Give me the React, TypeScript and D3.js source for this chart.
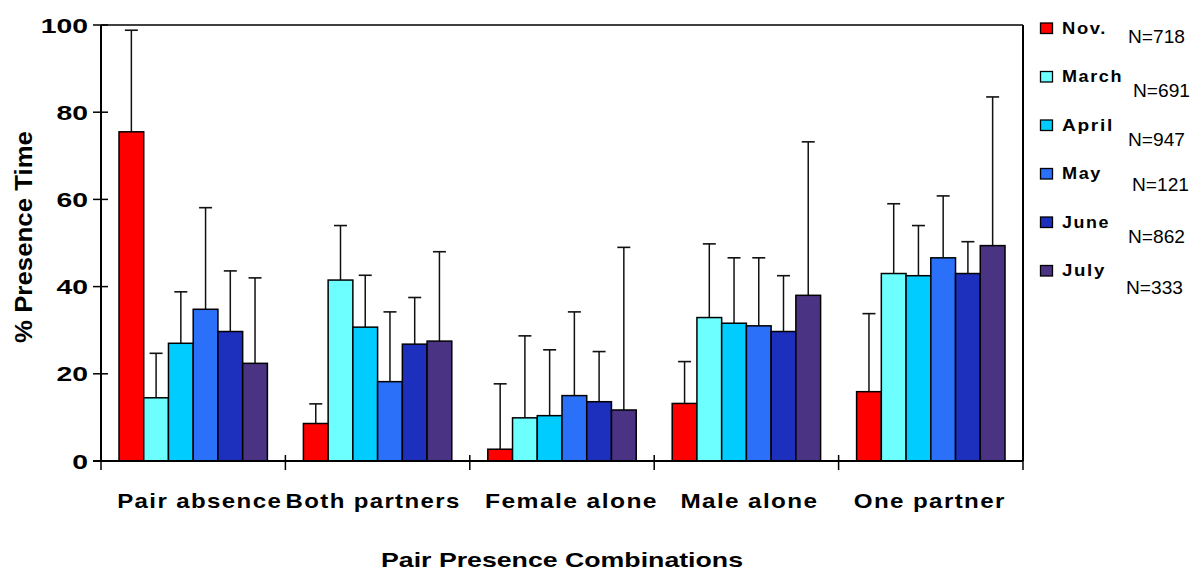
import React from "react";
import { scaleBand, scaleLinear } from "d3";

// groups on the x axis
const categories = ["Pair absence", "Both partners", "Female alone", "Male alone", "One partner"];
const months = ["Nov.", "March", "April", "May", "June", "July"];
const sampleSizes = ["N=718", "N=691", "N=947", "N=121", "N=862", "N=333"];
const colors = ["#ff0000", "#6dffff", "#00ccff", "#2a70f8", "#1c2fbd", "#4a3382"];

// mean % presence time per category, one array per month
const nov = [75.5, 8.6, 2.7, 13.2, 15.9];
const march = [14.5, 41.5, 9.9, 32.9, 43.0];
const april = [27.0, 30.7, 10.4, 31.6, 42.5];
const may = [34.8, 18.2, 15.0, 31.0, 46.6];
const june = [29.7, 26.8, 13.6, 29.7, 43.0];
const july = [22.4, 27.5, 11.7, 38.0, 49.4];

// upper error (SD) per category
const novSd = [23.3, 4.5, 15.0, 9.6, 17.9];
const marchSd = [10.2, 12.5, 18.8, 16.9, 16.0];
const aprilSd = [11.8, 11.9, 15.1, 15.0, 11.5];
const maySd = [23.3, 16.0, 19.2, 15.6, 14.2];
const juneSd = [13.9, 10.7, 11.5, 12.8, 7.3];
const julySd = [19.6, 20.5, 37.3, 35.2, 34.1];

const yTicks = [0, 20, 40, 60, 80, 100];

const means = [nov, march, april, may, june, july];
const sds = [novSd, marchSd, aprilSd, maySd, juneSd, julySd];

const left = 101;
const right = 1023;
const top = 25;
const bottom = 461;

// label widths / nudges as they sit in the original
const catLabelWidth = [165, 175, 173, 138, 152];
const catLabelShift = [6.5, -4.5, 9.5, 3, -1];
const legendLabelWidth = [45, 61, 52, 40, 48, 44];
const nX = [1128, 1133, 1128, 1132, 1128, 1126];
const nY = [43, 97, 146, 191, 243, 294];

export default function App() {
  const x0 = scaleBand().domain(categories).range([left, right]);
  const bw = x0.bandwidth();
  const x1 = scaleBand().domain(months).range([18, bw - 18]);
  const y = scaleLinear().domain([0, 100]).range([bottom, top]);
  const cap = 13;

  const bars = [];
  categories.forEach((c, ci) => {
    months.forEach((m, mi) => {
      const v = means[mi][ci];
      const bx = (x0(c) as number) + (x1(m) as number);
      const cx = bx + x1.bandwidth() / 2;
      const yTop = y(v + sds[mi][ci]);
      bars.push(
        <g key={c + m}>
          <line x1={cx} x2={cx} y1={y(v)} y2={yTop} stroke="#111" strokeWidth={1.5} />
          <line x1={cx - cap / 2} x2={cx + cap / 2} y1={yTop} y2={yTop} stroke="#111" strokeWidth={1.6} />
          <rect x={bx} y={y(v)} width={x1.bandwidth()} height={bottom - y(v)}
            fill={colors[mi]} stroke="#000" strokeWidth={1.5} />
        </g>
      );
    });
  });

  const tickXs = categories.map((c) => x0(c) as number).concat([right]);

  return (
    <svg width={1192} height={574} style={{ position: "absolute", left: 0, top: 0 }}
      fontFamily="'Liberation Sans', Arial, sans-serif">
      <rect width={1192} height={574} fill="#fff" />

      {bars}

      {/* frame */}
      <line x1={left} x2={right} y1={top} y2={top} stroke="#000" strokeWidth={1.5} />
      <line x1={right} x2={right} y1={top} y2={bottom} stroke="#000" strokeWidth={2} />

      {/* y axis */}
      <line x1={left} x2={left} y1={top} y2={bottom + 1} stroke="#000" strokeWidth={2} />
      {yTicks.map((t) => (
        <g key={t}>
          <line x1={left - 8} x2={left + 7} y1={y(t)} y2={y(t)} stroke="#000" strokeWidth={1.5} />
          <text transform={`translate(88,${y(t) + 7.5}) scale(1.35,1)`} textAnchor="end"
            fontSize={21} fontWeight="bold">{t}</text>
        </g>
      ))}
      <text transform={`translate(32,237) rotate(-90)`} textAnchor="middle" fontSize={24} fontWeight="bold"
        textLength={212} lengthAdjust="spacingAndGlyphs">
        % Presence Time
      </text>

      {/* x axis */}
      <line x1={left - 8} x2={right} y1={bottom} y2={bottom} stroke="#000" strokeWidth={2} />
      {tickXs.map((tx, i) => (
        <line key={i} x1={tx} x2={tx} y1={bottom - 6} y2={bottom + 9} stroke="#000" strokeWidth={1.5} />
      ))}
      {categories.map((c, i) => (
        <text key={c} x={(x0(c) as number) + bw / 2 + catLabelShift[i] - catLabelWidth[i] / 2} y={508}
          fontSize={21} fontWeight="bold" letterSpacing={1.2} textLength={catLabelWidth[i]}
          lengthAdjust="spacingAndGlyphs">
          {c}
        </text>
      ))}
      <text x={381} y={567} fontSize={21} fontWeight="bold" textLength={362} lengthAdjust="spacingAndGlyphs">
        Pair Presence Combinations
      </text>

      {/* legend */}
      {months.map((m, i) => {
        const ly = 23 + i * 48.5;
        return (
          <g key={m}>
            <rect x={1040.5} y={ly} width={12} height={10.5} fill={colors[i]} stroke="#000" strokeWidth={1.3} />
            <text x={1062} y={ly + 10.5} fontSize={17} fontWeight="bold" letterSpacing={1.5}
              textLength={legendLabelWidth[i]} lengthAdjust="spacingAndGlyphs">{m}</text>
          </g>
        );
      })}
      {sampleSizes.map((n, i) => (
        <text key={n} x={nX[i]} y={nY[i]} fontSize={19} textLength={57} lengthAdjust="spacingAndGlyphs">{n}</text>
      ))}
    </svg>
  );
}
